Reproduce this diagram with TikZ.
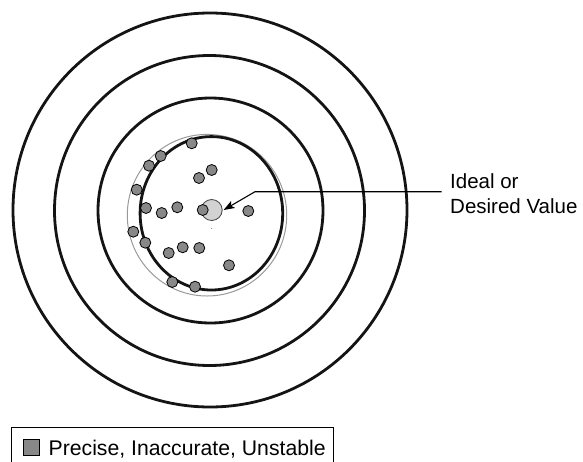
\documentclass[tikz,border=0pt]{standalone}
\usepackage{fontspec}
\setmainfont{Liberation Sans}
\usetikzlibrary{arrows.meta}
\definecolor{shotgray}{HTML}{888888}
\definecolor{goalgray}{HTML}{D2D2D2}
\definecolor{ringgray}{HTML}{9A9A9A}
\begin{document}
\begin{tikzpicture}[x=1pt,y=-1pt,
  ring/.style={line width=2.8pt, draw=black!92},
  shot/.style={circle, draw=black, line width=0.8pt, fill=shotgray, minimum size=11pt, inner sep=0pt},
  goalstyle/.style={circle, draw=black!75, line width=0.8pt, fill=goalgray, minimum size=21pt, inner sep=0pt},
  lbl/.style={font=\fontsize{20.5}{25}\selectfont, inner sep=0pt, anchor=base west},
  pointer/.style={line width=1.1pt, -{Stealth[length=11pt,width=8pt,inset=2.5pt]}}]
\useasboundingbox (0,0) rectangle (583,461);
% target rings
\draw[ring] (210,210) circle[radius=197];
\draw[ring] (209.5,210.5) circle[radius=155];
\draw[ring] (210.5,210.5) circle[radius=112.5];
\draw[ringgray, line width=1pt] (207,215.2) circle[x radius=79.7, y radius=80.8];
\draw[ring] (211.4,213.3) circle[x radius=71.3, y radius=76.7];
% ideal value
\node[goalstyle] (goal) at (211.7,210) {};
\fill[black!60] (211.7,228.3) circle[radius=0.5];
% shots
\node[shot] (d1) at (191.7,143.3) {};
\node[shot] (d2) at (160.7,156) {};
\node[shot] (d3) at (149,165.7) {};
\node[shot] (d4) at (211.7,170) {};
\node[shot] (d5) at (199,178) {};
\node[shot] (d6) at (136.7,189.7) {};
\node[shot] (d7) at (146,208) {};
\node[shot] (d8) at (161.7,213) {};
\node[shot] (d9) at (177.3,207.3) {};
\node[shot] (d10) at (202.7,210) {};
\node[shot] (d11) at (248.3,211) {};
\node[shot] (d12) at (133.3,231.7) {};
\node[shot] (d13) at (145.3,242.7) {};
\node[shot] (d14) at (168.7,253) {};
\node[shot] (d15) at (182.7,247.3) {};
\node[shot] (d16) at (199.3,248) {};
\node[shot] (d17) at (229,265.3) {};
\node[shot] (d18) at (172.3,282) {};
\node[shot] (d19) at (195,286.7) {};
% label
\node[lbl] (ideal) at (450,188.3) {Ideal or};
\node[lbl] (desired) at (450,213.3) {Desired Value};
\coordinate (lblstart) at (441.7,191.7);
\coordinate (knee) at (255,191.7);
\draw[pointer] (lblstart) -- (knee) -- ([xshift=1pt]goal.east);
% legend
\draw[line width=0.8pt] (11.7,463) -- (11.7,427.7) -- (333.3,427.7) -- (333.3,463);
\node[draw=black, line width=0.8pt, fill=shotgray, minimum size=15.5pt, inner sep=0pt] (key) at (31.3,447.2) {};
\node[font=\fontsize{21.2}{25}\selectfont, inner sep=0pt, anchor=base west] (keytext) at (48.5,455) {Precise, Inaccurate, Unstable};
\end{tikzpicture}
\end{document}
